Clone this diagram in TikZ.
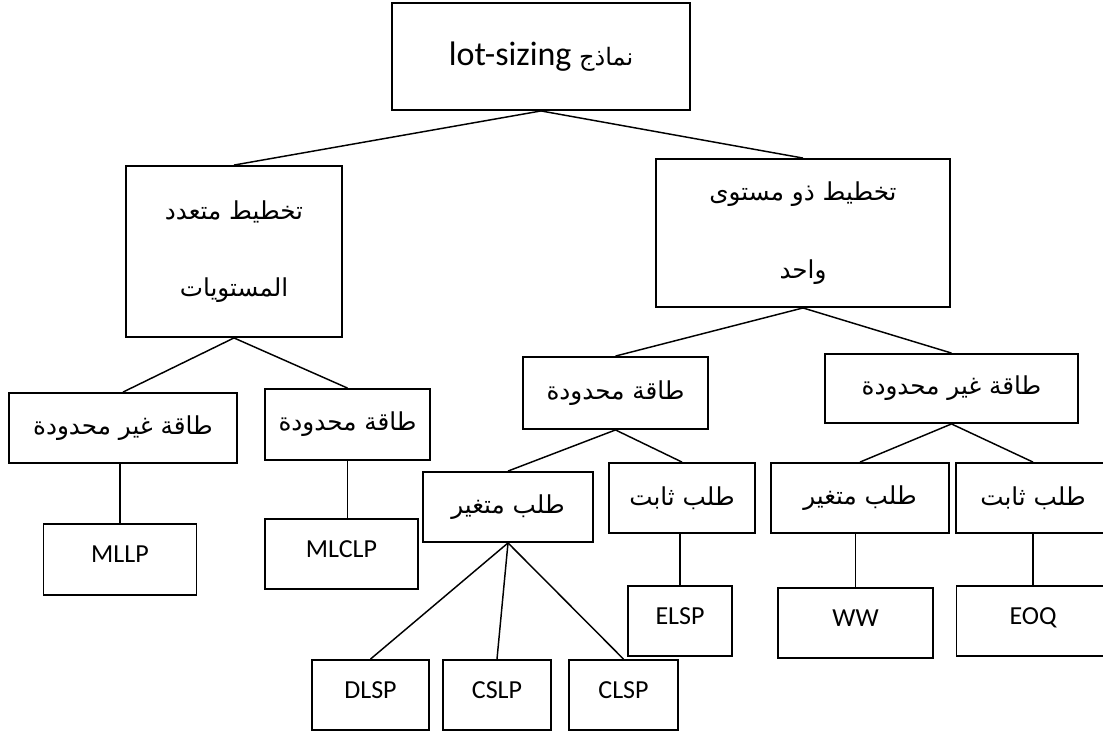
\documentclass[tikz,border=0pt]{standalone}
\usepackage{fontspec}
\setmainfont{Carlito}
\newfontfamily\arabicfont[Script=Arabic]{DejaVu Sans}
\TeXXeTstate=1
\tikzset{
  cell/.style 2 args={draw, line width=1.4pt, inner sep=0pt,
    minimum width=#1*0.75pt, minimum height=#2*0.75pt, align=center},
  ar/.style={font=\arabicfont\fontsize{18.5}{58}\selectfont},
  lat/.style={font=\fontsize{19.5}{24}\selectfont, text depth=8pt},
  link/.style={line width=1.1pt},
}
\begin{document}
\begin{tikzpicture}[x=0.75pt, y=-0.75pt]
    \useasboundingbox (0,0) rectangle (1103,733);
    \clip (0,0) rectangle (1103,733);

    % Root
    \node[cell={298}{107}] (root) at (541, 56.5)
      {\fontsize{25.5}{28}\selectfont lot-sizing {\arabicfont\fontsize{18}{28}\selectfont\beginR نماذج\endR}};

    % First level: multi level / single level
    \node[cell={216}{171}, ar] (multi) at (234, 251.5)
      {\beginR تخطيط متعدد\endR\\\beginR المستويات\endR};
    \node[cell={294}{148}, ar] (single) at (803, 233)
      {\beginR تخطيط ذو مستوى\endR\\\beginR واحد\endR};

    % Second level
    \node[cell={228}{70}, ar] (mlUnc) at (123, 428) {\beginR طاقة غير محدودة\endR};
    \node[cell={165}{71}, ar] (mlCap) at (347.5, 424.5) {\beginR طاقة محدودة\endR};
    \node[cell={185}{72}, ar] (slCap) at (615.5, 393) {\beginR طاقة محدودة\endR};
    \node[cell={253}{69}, ar] (slUnc) at (951.5, 388.5) {\beginR طاقة غير محدودة\endR};

    % Third level (demand)
    \node[cell={170}{70}, ar] (capVar) at (508, 507) {\beginR طلب متغير\endR};
    \node[cell={146}{70}, ar] (capFix) at (682, 498) {\beginR طلب ثابت\endR};
    \node[cell={178}{70}, ar] (uncVar) at (860, 498) {\beginR طلب متغير\endR};
    \node[cell={154}{70}, ar] (uncFix) at (1033, 498) {\beginR طلب ثابت\endR};

    % Models
    \node[cell={153}{71}, lat] (mllp) at (120, 559.5) {MLLP};
    \node[cell={153}{70}, lat] (mlclp) at (341.5, 554) {MLCLP};
    \node[cell={117}{70}, lat] (dlsp) at (370.5, 695) {DLSP};
    \node[cell={108}{70}, lat] (cslp) at (497, 695) {CSLP};
    \node[cell={109}{70}, lat] (clsp) at (623.5, 695) {CLSP};
    \node[cell={104}{70}, lat] (elsp) at (680, 621) {ELSP};
    \node[cell={155}{70}, lat] (ww) at (855.5, 623) {WW};
    \node[cell={153}{70}, lat] (eoq) at (1033, 621) {EOQ};

    % Connectors between levels
    \draw[link] (root.south) -- (multi.north);
    \draw[link] (root.south) -- (single.north);
    \draw[link] (multi.south) -- (mlUnc.north);
    \draw[link] (multi.south) -- (mlCap.north);
    \draw[link] (single.south) -- (slCap.north);
    \draw[link] (single.south) -- (slUnc.north);
    \draw[link] (slCap.south) -- (capVar.north);
    \draw[link] (slCap.south) -- (capFix.north);
    \draw[link] (slUnc.south) -- (uncVar.north);
    \draw[link] (slUnc.south) -- (uncFix.north);
    \draw[link] (capVar.south) -- (dlsp.north);
    \draw[link] (capVar.south) -- (cslp.north);
    \draw[link] (capVar.south) -- (clsp.north);

    % Vertical connectors to the models
    \draw[link] (mllp.north |- mlUnc.south) -- (mllp.north);
    \draw[link] (mlCap.south) -- (mlCap.south |- mlclp.north);
    \draw[link] (elsp.north |- capFix.south) -- (elsp.north);
    \draw[link] (ww.north |- uncVar.south) -- (ww.north);
    \draw[link] (uncFix.south) -- (uncFix.south |- eoq.north);

\end{tikzpicture}
\end{document}
